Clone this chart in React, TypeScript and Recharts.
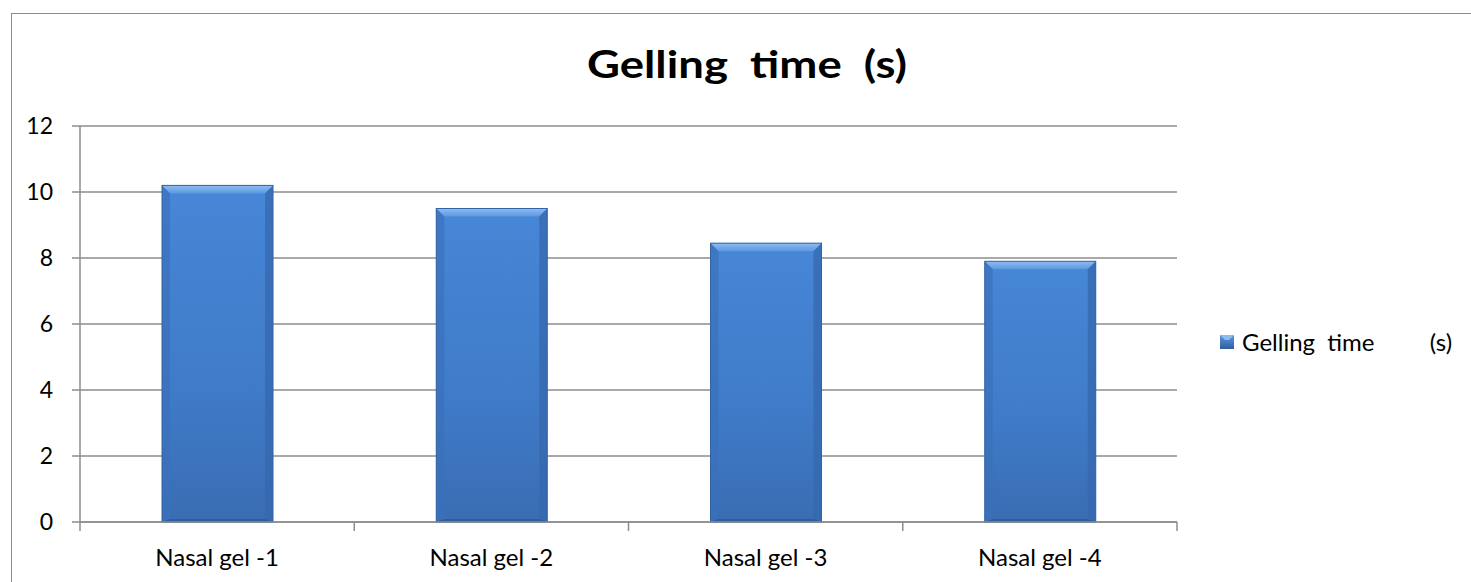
import React from "react";
import { BarChart, Bar, XAxis, YAxis, CartesianGrid, Legend } from "recharts";

const categories = ["Nasal gel -1", "Nasal gel -2", "Nasal gel -3", "Nasal gel -4"];
const gellingTime = [10.2, 9.5, 8.45, 7.9];
const yTicks = [0, 2, 4, 6, 8, 10, 12];
const seriesName = "Gelling  time         (s)";
const chartTitle = "Gelling  time  (s)";

const data = categories.map((c, i) => ({ name: c, value: gellingTime[i] }));

const FONT = "Lato, 'Open Sans', sans-serif";
const GRID = "#8c8c8c";

const BevelBar = (props: any) => {
  const { x, y, width: w, height: h } = props;
  if (!w || !h) return null;
  const b = 8;
  return (
    <g>
      <rect x={x} y={y} width={w} height={h} fill="url(#barBody)" />
      <polygon points={`${x},${y} ${x + w},${y} ${x + w - b},${y + b} ${x + b},${y + b}`} fill="url(#barTop)" />
      <polygon points={`${x},${y} ${x + b},${y + b} ${x + b},${y + h - 3} ${x},${y + h}`} fill="#3a70ba" opacity={0.7} />
      <polygon points={`${x + w},${y} ${x + w - b},${y + b} ${x + w - b},${y + h - 3} ${x + w},${y + h}`} fill="#3568ad" opacity={0.75} />
      <polygon points={`${x},${y + h} ${x + b},${y + h - 3} ${x + w - b},${y + h - 3} ${x + w},${y + h}`} fill="#2f5c9a" />
      <rect x={x} y={y} width={w} height={h} fill="none" stroke="#3463a3" strokeWidth={1} />
    </g>
  );
};

const XTick = (props: any) => {
  const { x, y, payload, index } = props;
  const off = payload && payload.offset != null ? payload.offset : 137;
  return (
    <g>
      <line x1={x - off} y1={y} x2={x - off} y2={y + 9} stroke={GRID} strokeWidth={1.5} />
      {index === categories.length - 1 && (
        <line x1={x + off} y1={y} x2={x + off} y2={y + 9} stroke={GRID} strokeWidth={1.5} />
      )}
      <text x={x} y={y + 44} textAnchor="middle" fontFamily={FONT} fontSize={24} fill="#000">
        {payload.value}
      </text>
    </g>
  );
};

const LegendContent = () => (
  <div style={{ display: "flex", alignItems: "center", fontFamily: FONT, fontSize: 24, color: "#000", whiteSpace: "pre", lineHeight: "28px" }}>
    <svg width={14} height={14} style={{ marginRight: 8 }}>
      <defs>
        <linearGradient id="legSq" x1="0" y1="0" x2="0" y2="1">
          <stop offset="0" stopColor="#5d97e0" />
          <stop offset="1" stopColor="#2f5f9f" />
        </linearGradient>
      </defs>
      <rect x={0} y={0} width={14} height={14} fill="url(#legSq)" />
      <polygon points="0,0 14,0 9,5 5,5" fill="#8dbcf2" />
    </svg>
    <span>{seriesName}</span>
  </div>
);

export default function App() {
  return (
    <div style={{ position: "absolute", left: 0, top: 0, width: 1471, height: 582, background: "#fff", overflow: "hidden" }}>
      <div style={{ position: "absolute", left: 11, top: 13, width: 1500, height: 600, borderLeft: "1.5px solid #8a8a8a", borderTop: "1.5px solid #8a8a8a" }} />
      <svg style={{ position: "absolute", left: 0, top: 0 }} width={1471} height={110}>
        <text x={747} y={78} textAnchor="middle" fontFamily={FONT} fontWeight="bold" fontSize={38} textLength={320} lengthAdjust="spacingAndGlyphs" fill="#000" style={{ whiteSpace: "pre" }}>
          {chartTitle}
        </text>
      </svg>
      <div style={{ position: "absolute", left: 0, top: 0 }}>
        <BarChart width={1471} height={582} data={data} margin={{ top: 126, right: 294, bottom: 0, left: 0 }} barSize={111}>
          <defs>
            <linearGradient id="barBody" x1="0" y1="0" x2="0" y2="1">
              <stop offset="0" stopColor="#4787d7" />
              <stop offset="0.6" stopColor="#3f7bc8" />
              <stop offset="1" stopColor="#3a6db3" />
            </linearGradient>
            <linearGradient id="barTop" x1="0" y1="0" x2="0" y2="1">
              <stop offset="0" stopColor="#8ebdf2" />
              <stop offset="1" stopColor="#5c98e2" />
            </linearGradient>
          </defs>
          <CartesianGrid vertical={false} stroke={GRID} strokeWidth={1.5} />
          <XAxis
            dataKey="name"
            height={60}
            stroke={GRID}
            strokeWidth={1.5}
            tickLine={false}
            tickSize={0}
            tickMargin={0}
            tick={<XTick />}
            interval={0}
          />
          <YAxis
            width={80}
            domain={[0, 12]}
            ticks={yTicks}
            interval={0}
            stroke={GRID}
            strokeWidth={1.5}
            tickSize={8}
            tickMargin={19}
            tick={{ fill: "#000", fontFamily: FONT, fontSize: 23 }}
          />
          <Legend
            layout="horizontal"
            verticalAlign="middle"
            align="center"
            content={<LegendContent />}
            wrapperStyle={{ left: 1220, top: 328, width: 250 }}
          />
          <Bar dataKey="value" name={seriesName} shape={<BevelBar />} isAnimationActive={false} />
        </BarChart>
      </div>
    </div>
  );
}
